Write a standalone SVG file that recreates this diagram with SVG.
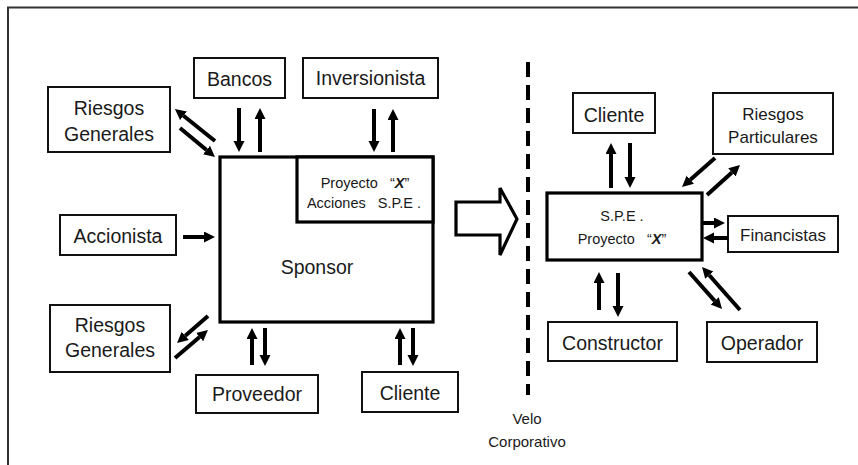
<svg xmlns="http://www.w3.org/2000/svg" width="858" height="465" viewBox="0 0 858 465">
<style>
.box{fill:#fff;stroke:#111;stroke-width:2}
.bigbox{fill:#fff;stroke:#000;stroke-width:3.2}
.t{font-family:"Liberation Sans",Arial,sans-serif;font-size:19.5px;fill:#1a1a1a;text-anchor:middle}
.s{font-size:17px}
.xs{font-size:14.5px}
.v{font-size:15px}
.arr{stroke:#000;stroke-width:4;fill:none;marker-end:url(#ah)}
</style>
<defs>
<marker id="ah" markerUnits="userSpaceOnUse" markerWidth="12" markerHeight="12" refX="0" refY="5.5" orient="auto">
<path d="M0,0 L11,5.5 L0,11 z" fill="#000"/>
</marker>
</defs>
<rect width="858" height="465" fill="#fff"/>
<g id="frame" stroke="#333" stroke-width="2" fill="none">
<path d="M8,465 L8,7.5 L858,7.5"/>
</g>

<g id="riesgos-generales-top">
<rect class="box" x="48" y="87" width="122" height="65"/>
<text class="t" x="109" y="115">Riesgos</text>
<text class="t" x="109" y="141">Generales</text>
</g>
<g id="bancos">
<rect class="box" x="194" y="58" width="91" height="40"/>
<text class="t" x="239.5" y="86">Bancos</text>
</g>
<g id="inversionista">
<rect class="box" x="303" y="58" width="135" height="40"/>
<text class="t" x="370.5" y="85">Inversionista</text>
</g>
<g id="accionista">
<rect class="box" x="60" y="215" width="116" height="40"/>
<text class="t" x="118" y="243">Accionista</text>
</g>
<g id="riesgos-generales-bottom">
<rect class="box" x="50" y="305" width="120" height="67"/>
<text class="t" x="110" y="332">Riesgos</text>
<text class="t" x="110" y="357">Generales</text>
</g>
<g id="sponsor">
<rect class="bigbox" x="220" y="157" width="213" height="165"/>
<text class="t" x="317" y="274">Sponsor</text>
</g>
<g id="proyecto-x">
<rect class="bigbox" x="297" y="157" width="136" height="65"/>
<text class="t xs" x="365" y="188" xml:space="preserve">Proyecto   “<tspan font-weight="bold" font-style="italic">X</tspan>”</text>
<text class="t xs" x="364" y="208" xml:space="preserve">Acciones   S.P.E .</text>
</g>
<g id="proveedor">
<rect class="box" x="196" y="375" width="122" height="38"/>
<text class="t" x="257" y="401">Proveedor</text>
</g>
<g id="cliente-left">
<rect class="box" x="362" y="372" width="96" height="40"/>
<text class="t" x="410" y="400">Cliente</text>
</g>

<g id="spe">
<rect class="bigbox" x="547" y="193" width="155" height="67"/>
<text class="t xs" x="622" y="221">S.P.E .</text>
<text class="t xs" x="622" y="244" xml:space="preserve">Proyecto   “<tspan font-weight="bold" font-style="italic">X</tspan>”</text>
</g>
<g id="cliente-right">
<rect class="box" x="573" y="93" width="82" height="40"/>
<text class="t" x="614" y="122">Cliente</text>
</g>
<g id="riesgos-particulares">
<rect class="box" x="713" y="93" width="120" height="61"/>
<text class="t s" x="773" y="120">Riesgos</text>
<text class="t s" x="773" y="143">Particulares</text>
</g>
<g id="financistas">
<rect class="box" x="728" y="216" width="110" height="36"/>
<text class="t s" x="783" y="241">Financistas</text>
</g>
<g id="constructor">
<rect class="box" x="548" y="322" width="129" height="39"/>
<text class="t" x="612.5" y="350">Constructor</text>
</g>
<g id="operador">
<rect class="box" x="707" y="322" width="110" height="40"/>
<text class="t" x="762" y="350">Operador</text>
</g>

<g id="velo">
<line x1="528" y1="62" x2="528" y2="395" stroke="#000" stroke-width="4" stroke-dasharray="15 8"/>
<text class="t v" x="527" y="424">Velo</text>
<text class="t v" x="527" y="447">Corporativo</text>
</g>

<g id="connectors">
<line class="arr" x1="239" y1="108" x2="239" y2="141"/>
<line class="arr" x1="260" y1="152" x2="260" y2="119"/>
<line class="arr" x1="374" y1="109" x2="374" y2="141"/>
<line class="arr" x1="393" y1="152" x2="393" y2="120"/>
<line class="arr" x1="215" y1="141" x2="183.5" y2="115.8"/>
<line class="arr" x1="180" y1="128" x2="206.5" y2="150"/>
<line class="arr" x1="183" y1="237" x2="204" y2="237"/>
<line class="arr" x1="208" y1="316" x2="185.3" y2="335.8"/>
<line class="arr" x1="175" y1="358" x2="199.6" y2="337.1"/>
<line class="arr" x1="252" y1="365" x2="252" y2="339"/>
<line class="arr" x1="265" y1="328" x2="265" y2="355"/>
<line class="arr" x1="400" y1="365" x2="400" y2="339"/>
<line class="arr" x1="413" y1="328" x2="413" y2="355"/>
<line class="arr" x1="611" y1="188" x2="611" y2="154"/>
<line class="arr" x1="630" y1="143" x2="630" y2="177"/>
<line class="arr" x1="715" y1="158" x2="690.3" y2="179.7"/>
<line class="arr" x1="707" y1="195" x2="731.9" y2="172.4"/>
<line class="arr" x1="702" y1="223" x2="714" y2="223"/>
<line class="arr" x1="728" y1="238" x2="714" y2="238"/>
<line class="arr" x1="599" y1="310" x2="599" y2="283"/>
<line class="arr" x1="618" y1="273" x2="618" y2="306"/>
<line class="arr" x1="689" y1="272" x2="714.7" y2="300.8"/>
<line class="arr" x1="740" y1="310" x2="709.3" y2="275.2"/>
<polygon points="456,202 500,202 500,188 517,219 500,255 500,235 456,235" fill="#fff" stroke="#000" stroke-width="3.2" stroke-linejoin="miter"/>
</g>
</svg>
